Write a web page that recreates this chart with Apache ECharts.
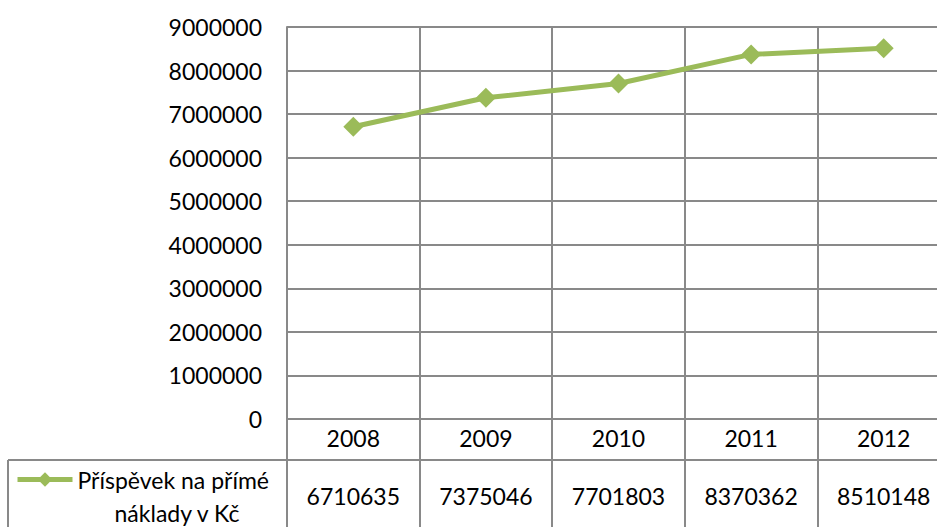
<!DOCTYPE html>
<html>
<head>
<meta charset="utf-8">
<script src="https://cdn.jsdelivr.net/npm/echarts@6/dist/echarts.min.js"></script>
<style>
html,body{margin:0;padding:0;background:#fff;overflow:hidden;}
#chart{width:950px;height:527px;}
</style>
</head>
<body>
<div id="chart"></div>
<script>
const categories = ['2008', '2009', '2010', '2011', '2012'];
const seriesName = 'Příspěvek na přímé náklady v Kč';
const legendLine1 = 'Příspěvek na přímé';
const legendLine2 = 'náklady v Kč';
const values = [6710635, 7375046, 7701803, 8370362, 8510148];

const FONT = 'Lato';
const GRID = '#898989';
const GREEN = '#9BBB59';

const chart = echarts.init(document.getElementById('chart'), null, {renderer: 'svg'});
chart.setOption({
  animation: false,
  backgroundColor: '#fff',
  textStyle: {fontFamily: FONT},
  grid: {left: 287, top: 27, right: 0, bottom: 108, containLabel: false},
  xAxis: [
    {
      type: 'category',
      data: categories,
      boundaryGap: true,
      position: 'bottom',
      axisLine: {show: true, lineStyle: {color: GRID, width: 2}},
      axisTick: {show: true, interval: 0, length: 110, lineStyle: {color: GRID, width: 2}},
      splitLine: {show: true, interval: 0, lineStyle: {color: GRID, width: 2}},
      axisLabel: {interval: 0, margin: 7, color: '#000', fontSize: 23, fontFamily: FONT}
    },
    {
      type: 'category',
      data: values.map(v => String(v)),
      boundaryGap: true,
      position: 'bottom',
      axisLine: {show: false},
      axisTick: {show: false},
      splitLine: {show: false},
      axisLabel: {interval: 0, margin: 65, color: '#000', fontSize: 23, fontFamily: FONT}
    }
  ],
  yAxis: {
    type: 'value',
    min: 0,
    max: 9000000,
    interval: 1000000,
    axisLine: {show: true, lineStyle: {color: GRID, width: 2}},
    axisTick: {show: false},
    splitLine: {show: true, lineStyle: {color: GRID, width: 2}},
    axisLabel: {margin: 25, color: '#000', fontSize: 23, fontFamily: FONT, formatter: v => String(v)}
  },
  legend: {
    show: true,
    left: 10,
    top: 425,
    itemWidth: 55,
    itemHeight: 18,
    itemGap: 0,
    data: [{
      name: seriesName,
      itemStyle: {color: GREEN},
      lineStyle: {color: GREEN, width: 5}
    }],
    formatter: () => '{a|' + legendLine1 + '}\n{b|' + legendLine2 + '}',
    textStyle: {
      color: '#000',
      fontSize: 23,
      fontFamily: FONT,
      lineHeight: 33,
      padding: [33, 0, 0, 0],
      rich: {
        a: {fontSize: 23, fontFamily: FONT, color: '#000', lineHeight: 33},
        b: {fontSize: 23, fontFamily: FONT, color: '#000', lineHeight: 33, padding: [0, 0, 0, 37]}
      }
    }
  },
  graphic: [
    {type: 'line', shape: {x1: 8, y1: 460, x2: 950, y2: 460}, style: {stroke: GRID, lineWidth: 2}},
    {type: 'line', shape: {x1: 8, y1: 460, x2: 8, y2: 527}, style: {stroke: GRID, lineWidth: 2}}
  ],
  series: [{
    name: seriesName,
    type: 'line',
    xAxisIndex: 0,
    data: values,
    symbol: 'diamond',
    symbolSize: 20,
    itemStyle: {color: GREEN},
    lineStyle: {color: GREEN, width: 5}
  }]
});
</script>
</body>
</html>
